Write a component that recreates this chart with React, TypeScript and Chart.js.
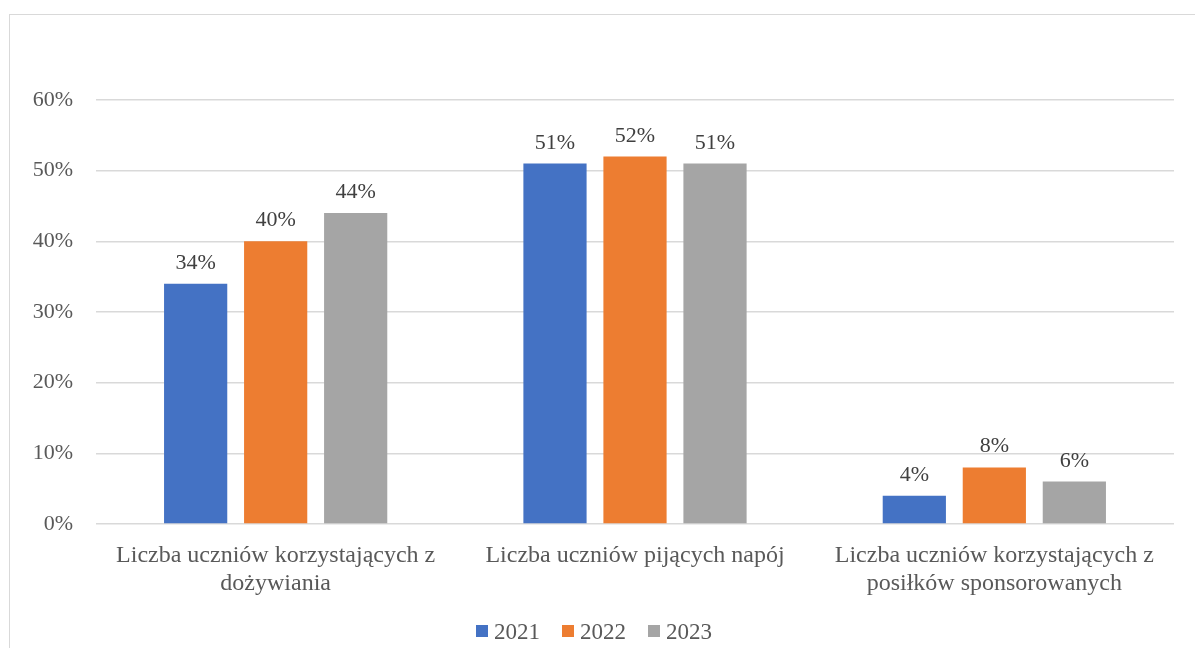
import React, { useEffect, useRef } from "react";
import { Chart, registerables } from "chart.js";

Chart.register(...registerables);

const categories: string[][] = [
  ["Liczba uczniów korzystających z", "dożywiania"],
  ["Liczba uczniów pijących napój"],
  ["Liczba uczniów korzystających z", "posiłków sponsorowanych"],
];
const seriesNames = ["2021", "2022", "2023"];
const values2021 = [34, 51, 4];
const values2022 = [40, 52, 8];
const values2023 = [44, 51, 6];
const yTicks = [0, 10, 20, 30, 40, 50, 60];

const colors = ["#4472C4", "#ED7D31", "#A5A5A5"];
const FONT = "'Liberation Serif', 'Times New Roman', serif";

const dataLabels = {
  id: "dataLabels",
  afterDatasetsDraw(chart: any) {
    const ctx = chart.ctx;
    ctx.save();
    ctx.font = `22px ${FONT}`;
    ctx.fillStyle = "#404040";
    ctx.textAlign = "center";
    ctx.textBaseline = "alphabetic";
    chart.data.datasets.forEach((ds: any, i: number) => {
      const meta = chart.getDatasetMeta(i);
      meta.data.forEach((bar: any, j: number) => {
        ctx.fillText(`${ds.data[j]}%`, bar.x, bar.y - 15);
      });
    });
    ctx.restore();
  },
};

const bottomLegend = {
  id: "bottomLegend",
  afterDraw(chart: any) {
    const ctx = chart.ctx;
    ctx.save();
    ctx.font = `23px ${FONT}`;
    const box = 12;
    const gapText = 6;
    const gapItem = 22;
    const widths = chart.data.datasets.map((ds: any) => ctx.measureText(ds.label).width);
    const total =
      widths.reduce((a: number, w: number) => a + box + gapText + w, 0) +
      gapItem * (widths.length - 1);
    let x = 594 - total / 2;
    const cy = 631;
    chart.data.datasets.forEach((ds: any, i: number) => {
      ctx.fillStyle = ds.backgroundColor;
      ctx.fillRect(x, cy - box / 2, box, box);
      x += box + gapText;
      ctx.fillStyle = "#595959";
      ctx.textAlign = "left";
      ctx.textBaseline = "alphabetic";
      ctx.fillText(ds.label, x, cy + 8);
      x += widths[i] + gapItem;
    });
    ctx.restore();
  },
};

export default function App() {
  const ref = useRef<HTMLCanvasElement>(null);
  useEffect(() => {
    if (!ref.current) return;
    const series = [values2021, values2022, values2023];
    const chart = new Chart(ref.current, {
      type: "bar",
      data: {
        labels: categories,
        datasets: seriesNames.map((name, i) => ({
          label: name,
          data: series[i],
          backgroundColor: colors[i],
          borderWidth: 0,
          categoryPercentage: 0.668,
          barPercentage: 0.79,
        })),
      },
      options: {
        animation: false,
        responsive: false,
        maintainAspectRatio: false,
        layout: { padding: { top: 100, right: 21, left: 0, bottom: 32 } },
        plugins: {
          tooltip: { enabled: false },
          legend: { display: false },
        },
        scales: {
          x: {
            grid: { display: false },
            border: { display: false },
            ticks: {
              color: "#595959",
              font: { family: FONT, size: 24, lineHeight: 1.2 },
              padding: 9,
              maxRotation: 0,
              autoSkip: false,
            },
            afterFit: (scale: any) => {
              scale.height = 92;
            },
          },
          y: {
            min: 0,
            max: 60,
            afterBuildTicks: (scale: any) => {
              scale.ticks = yTicks.map((v) => ({ value: v }));
            },
            grid: { color: "#d9d9d9", lineWidth: 1.5, drawTicks: false },
            border: { display: false },
            ticks: {
              color: "#595959",
              font: { family: FONT, size: 22 },
              padding: 23,
              callback: (v: any) => `${v}%`,
            },
            afterFit: (scale: any) => {
              scale.width = 96;
            },
          },
        },
      },
      plugins: [dataLabels, bottomLegend],
    });
    return () => chart.destroy();
  }, []);

  return (
    <div
      style={{
        position: "fixed",
        left: 0,
        top: 0,
        width: 1195,
        height: 648,
        overflow: "hidden",
        background: "#fff",
      }}
    >
      <div
        style={{
          position: "absolute",
          left: 9,
          top: 14,
          width: 1300,
          height: 800,
          border: "1px solid #d9d9d9",
        }}
      />
      <canvas
        ref={ref}
        width={1195}
        height={648}
        style={{ position: "absolute", left: 0, top: 0, width: 1195, height: 648 }}
      />
    </div>
  );
}
